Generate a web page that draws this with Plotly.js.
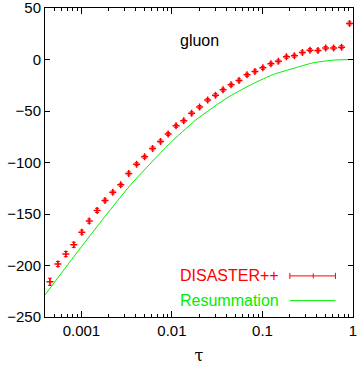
<!DOCTYPE html>
<html>
<head>
<meta charset="utf-8">
<script src="https://cdn.plot.ly/plotly-3.0.1.min.js"></script>
<style>
  html, body { margin: 0; padding: 0; background: #fff; }
  #chart { width: 357px; height: 365px; }
</style>
</head>
<body>
<div id="chart"></div>
<script>
// DISASTER++ points (tau, value, error)
var tauPts = [0.000449, 0.000550, 0.000673, 0.000823, 0.00101, 0.00122, 0.00149, 0.00182,
  0.00222, 0.00272, 0.00333, 0.00407, 0.00499, 0.00611, 0.00748, 0.00908, 0.0111, 0.0135,
  0.0165, 0.0202, 0.0248, 0.0303, 0.0367, 0.0450, 0.0551, 0.0675, 0.0826, 0.101, 0.124,
  0.150, 0.184, 0.225, 0.276, 0.335, 0.410, 0.499, 0.611, 0.748, 0.916];
var disaster = [-215.8, -198.6, -188.9, -179.9, -167.6, -156.9, -146.5, -136.8, -129.0,
  -121.7, -110.6, -101.6, -94.5, -86.3, -79.5, -72.4, -64.4, -59.5, -52.3, -46.2, -39.4,
  -34.6, -29.4, -24.6, -20.3, -14.9, -11.6, -8.1, -4.2, -1.8, 2.6, 3.6, 6.9, 9.1, 8.8,
  11.1, 11.1, 12.0, 35.0];
var disasterErr = [3.5, 2.5, 2.5, 2.5, 2, 2, 2, 1.5, 1.5, 1.5, 1.5, 1.5, 1.5, 1.5, 1.5,
  1.5, 1.5, 1.5, 1.5, 1.5, 1.5, 1.5, 1.5, 1.5, 1.5, 1.5, 1.5, 1.5, 1.5, 1.5, 1.5, 1.5,
  1.5, 1.5, 1.5, 1.5, 1.5, 1.5, 1.5];

// Resummation curve
var tauRes = [0.000395, 0.000782, 0.00159, 0.00348, 0.00932, 0.0183, 0.0425, 0.0799,
  0.1324, 0.2389, 0.364, 0.6035, 1.0];
var resum = [-228.7, -194.1, -159.0, -121.9, -82.1, -58.8, -36.2, -23.2, -14.5, -7.7,
  -3.2, -0.6, 0.0];

var xTickVals = [0.001, 0.01, 0.1, 1];
var xTickText = ['0.001', '0.01', '0.1', '1'];
var xMinorVals = [];
[0.0001, 0.001, 0.01, 0.1].forEach(function (d) {
  for (var k = 2; k <= 9; k++) xMinorVals.push(d * k);
});

var red = '#ff0000';
var green = '#00ee00';
var font = 'Liberation Sans, Arial, sans-serif';

var traces = [
  {
    x: tauPts, y: disaster, type: 'scatter', mode: 'markers', name: 'DISASTER++',
    marker: { symbol: 'cross-thin', size: 5, color: red, line: { color: red, width: 1.5 } },
    error_y: { type: 'data', array: disasterErr, visible: true, color: red, thickness: 1, width: 2 },
    showlegend: false
  },
  {
    x: tauRes, y: resum, type: 'scatter', mode: 'lines', name: 'Resummation',
    line: { color: green, width: 1, shape: 'spline', smoothing: 0.6 },
    showlegend: false
  }
];

// legend drawn gnuplot style: text then sample
var lx0 = 0.795, lx1 = 0.943, ly1 = 0.133, ly2 = 0.053;
var shapes = [
  { type: 'line', xref: 'paper', yref: 'paper', x0: lx0, x1: lx1, y0: ly1, y1: ly1, line: { color: red, width: 1 } },
  { type: 'line', xref: 'paper', yref: 'paper', x0: lx0, x1: lx0, y0: ly1 - 0.01, y1: ly1 + 0.01, line: { color: red, width: 1 } },
  { type: 'line', xref: 'paper', yref: 'paper', x0: lx1, x1: lx1, y0: ly1 - 0.01, y1: ly1 + 0.01, line: { color: red, width: 1 } },
  { type: 'line', xref: 'paper', yref: 'paper', x0: 0.871, x1: 0.871, y0: ly1 - 0.008, y1: ly1 + 0.008, line: { color: red, width: 1 } },
  { type: 'line', xref: 'paper', yref: 'paper', x0: lx0, x1: lx1, y0: ly2, y1: ly2, line: { color: green, width: 1 } }
];

var annotations = [
  { text: 'gluon', xref: 'paper', yref: 'paper', x: 0.502, y: 0.895, showarrow: false,
    xanchor: 'center', yanchor: 'middle', font: { family: font, size: 16, color: '#000' } },
  { text: 'DISASTER++', xref: 'paper', yref: 'paper', x: 0.765, y: ly1, showarrow: false,
    xanchor: 'right', yanchor: 'middle', font: { family: font, size: 16, color: red } },
  { text: 'Resummation', xref: 'paper', yref: 'paper', x: 0.765, y: ly2, showarrow: false,
    xanchor: 'right', yanchor: 'middle', font: { family: font, size: 16, color: green } }
];

var layout = {
  width: 357, height: 365,
  margin: { l: 45, r: 4, t: 8, b: 48 },
  paper_bgcolor: '#fff', plot_bgcolor: '#fff',
  font: { family: font, size: 15, color: '#000' },
  showlegend: false,
  xaxis: {
    type: 'log', range: [Math.log10(0.000396), 0],
    tickmode: 'array', tickvals: xTickVals, ticktext: xTickText,
    ticks: 'inside', ticklen: 6, tickcolor: '#000',
    minor: { tickmode: 'array', tickvals: xMinorVals, ticks: 'inside', ticklen: 3, tickcolor: '#000', showgrid: false },
    showline: true, linecolor: '#000', linewidth: 1, mirror: 'allticks',
    showgrid: false, zeroline: false, ticklabeloverflow: 'allow',
    title: { text: 'τ', font: { family: 'DejaVu Serif, serif', size: 16 }, standoff: 13 }
  },
  yaxis: {
    range: [-250, 50], dtick: 50, tick0: 0,
    ticks: 'inside', ticklen: 5, tickcolor: '#000',
    showline: true, linecolor: '#000', linewidth: 1, mirror: 'allticks',
    showgrid: false, zeroline: false, ticklabeloverflow: 'allow'
  },
  shapes: shapes,
  annotations: annotations
};

Plotly.newPlot('chart', traces, layout, { staticPlot: true, displayModeBar: false });
</script>
</body>
</html>
